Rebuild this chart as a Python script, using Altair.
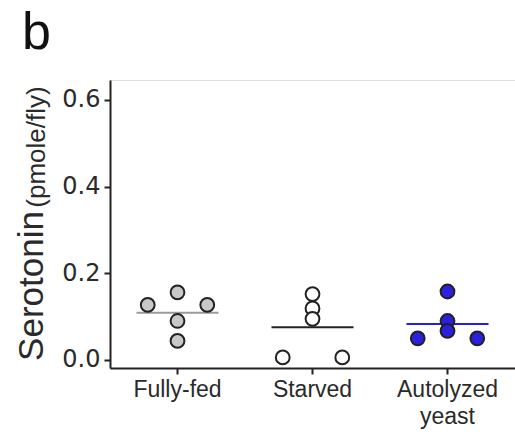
import altair as alt
import pandas as pd

groups = ["Fully-fed", "Starved", "Autolyzed yeast"]
# per-point values (pmole/fly), with dodge slot
ff_values = [0.156, 0.127, 0.127, 0.090, 0.044]
ff_slots = ["C", "L", "R", "C", "C"]
st_values = [0.152, 0.119, 0.095, 0.006, 0.006]
st_slots = ["C", "C", "C", "L", "R"]
ay_values = [0.158, 0.090, 0.067, 0.050, 0.050]
ay_slots = ["C", "C", "C", "L", "R"]

fills = ["#c8c8c8", "#ffffff", "#2b20e0"]
line_colors = ["#9a9a9a", "#222222", "#2020e8"]
y_ticks = [0.0, 0.2, 0.4, 0.6]

rows = []
for g, vals, slots in zip(groups, [ff_values, st_values, ay_values], [ff_slots, st_slots, ay_slots]):
    for v, s in zip(vals, slots):
        rows.append({"group": g, "value": v, "slot": s})
df = pd.DataFrame(rows)
one = pd.DataFrame({"k": [0]})

FONT = "Liberation Sans"
TICKFONT = "DejaVu Sans"
TXT = "#2a2a2a"

xscale = alt.Scale(domain=groups, paddingInner=0.559, paddingOuter=0.2795)
yscale = alt.Scale(domain=[-0.0185, 0.646], nice=False, zero=False)

x_enc = alt.X(
    "group:N", scale=xscale, sort=groups, title=None,
    axis=alt.Axis(
        labelAngle=0, labelFontSize=23, labelColor=TXT, labelFont=FONT,
        domainColor="#222", domainWidth=2, tickColor="#222", tickWidth=2, tickSize=6,
        labelPadding=4, labelLineHeight=27,
        labelExpr="datum.value == 'Autolyzed yeast' ? ['Autolyzed', 'yeast'] : datum.label",
    ),
)
y_enc = alt.Y(
    "value:Q", scale=yscale, title=None,
    axis=alt.Axis(
        values=y_ticks, format=".1f", labelFontSize=24, labelColor=TXT, labelFont=TICKFONT,
        domainColor="#222", domainWidth=2, tickColor="#222", tickWidth=2, tickSize=6,
        labelPadding=4, grid=False,
    ),
)

means = alt.Chart(df).mark_tick(size=82, thickness=2, orient="horizontal").encode(
    x=x_enc,
    y=alt.Y("mean(value):Q", scale=yscale),
    color=alt.Color("group:N", scale=alt.Scale(domain=groups, range=line_colors), legend=None),
)

points = alt.Chart(df).mark_point(filled=False, size=190, strokeWidth=2, stroke="#222", opacity=1).encode(
    x=x_enc,
    xOffset=alt.XOffset("slot:N", scale=alt.Scale(domain=["L", "C", "R"], paddingInner=0, paddingOuter=0)),
    y=y_enc,
    fill=alt.Fill("group:N", scale=alt.Scale(domain=groups, range=fills), legend=None),
)

title_main = alt.Chart(one).mark_text(
    text="Serotonin", angle=270, fontSize=35, font=FONT, color=TXT,
    align="center", baseline="alphabetic",
).encode(x=alt.value(-67), y=alt.value(206))

title_unit = alt.Chart(one).mark_text(
    text="(pmole/fly)", angle=270, fontSize=26, font=FONT, color=TXT,
    align="center", baseline="alphabetic",
).encode(x=alt.value(-65), y=alt.value(67))

panel = alt.Chart(one).mark_text(
    text="b", fontSize=52, font=FONT, color="#111", align="left", baseline="alphabetic",
).encode(x=alt.value(-88), y=alt.value(-31))

chart = alt.layer(means, points, title_main, title_unit, panel).properties(
    width=405, height=288,
    autosize=alt.AutoSizeParams(type="none"),
    padding={"left": 110, "top": 80, "right": 0, "bottom": 70},
).configure_view(stroke=None).configure(background="white")

chart.save("out.html", embed_options={"renderer": "svg", "actions": False})
